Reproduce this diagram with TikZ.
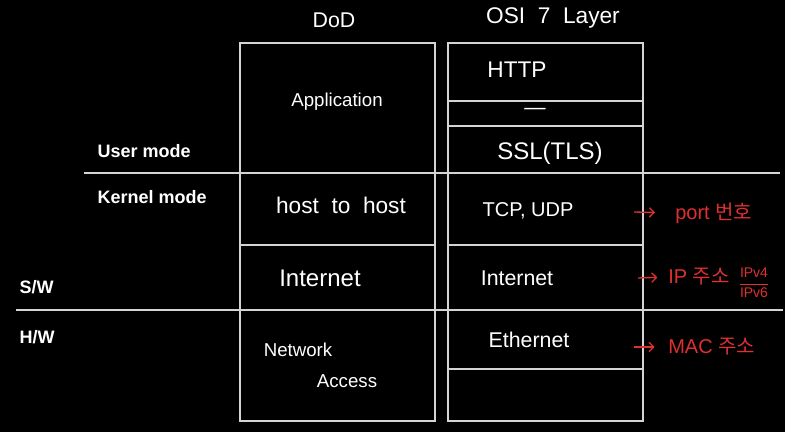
\documentclass[tikz,border=0pt]{standalone}
\usepackage{amsmath}
\usepackage{fontspec}
\setmainfont{Liberation Sans}
\newfontfamily\krfont{Noto Sans CJK KR}
\usetikzlibrary{arrows.meta}

\definecolor{boxline}{RGB}{212,212,212}
\definecolor{penred}{RGB}{222,48,48}

\tikzset{
  cell/.style={draw=boxline, line width=1.5pt, minimum width=146.25pt, inner sep=0pt},
  hand/.style={text=white, font=\fontsize{16}{18}\selectfont},
  mode/.style={text=white, font=\bfseries\fontsize{13.5}{16}\selectfont, anchor=base west},
  note/.style={text=penred, font=\fontsize{15}{17}\selectfont, anchor=west, inner sep=0pt},
  divider/.style={draw=boxline, line width=1.2pt},
  pointer/.style={draw=penred, line width=1pt, -{Straight Barb[length=3.5pt,width=7pt]}}
}

\begin{document}
\begin{tikzpicture}[x=0.75pt, y=-0.75pt]
    \fill[black] (0,0) rectangle (785,432);
    \useasboundingbox (0,0) rectangle (785,432);

    % DoD column
    \node[cell, minimum height=97.5pt] (dodapp) at (337.5,108) {};
    \node[cell, minimum height=54pt] (dodhost) at (337.5,209) {};
    \node[cell, minimum height=48.75pt] (dodnet) at (337.5,277.5) {};
    \node[cell, minimum height=83.25pt] (dodlink) at (337.5,365.5) {};

    % OSI column
    \node[cell, minimum height=43.5pt] (osihttp) at (545.5,72) {};
    \node[cell, minimum height=18.75pt] (osidash) at (545.5,113.5) {};
    \node[cell, minimum height=35.25pt] (osissl) at (545.5,149.5) {};
    \node[cell, minimum height=54pt] (ositcp) at (545.5,209) {};
    \node[cell, minimum height=48.75pt] (osinet) at (545.5,277.5) {};
    \node[cell, minimum height=44.25pt] (osieth) at (545.5,339.5) {};
    \node[cell, minimum height=39pt] (osiphy) at (545.5,395) {};

    % mode lines
    \draw[divider] (84,173) -- (780,173);
    \draw[divider] (16,310) -- (783,310);

    \node[hand] (dodtitle) at (334,20) {DoD};
    \node[hand, font=\fontsize{17}{19}\selectfont] (osititle) at (553,18) {OSI\ \ 7\ \ Layer};

    \node[hand, font=\fontsize{14}{16}\selectfont] (apptext) at (337,102) {Application};
    \node[hand, font=\fontsize{17}{19}\selectfont] (hosttext) at (341,205) {host\ \ to\ \ host};
    \node[hand, font=\fontsize{18}{20}\selectfont] (dodnettext) at (320,278) {Internet};
    \node[hand, font=\fontsize{14}{16}\selectfont] (linktext) at (298,350) {Network};
    \node[hand, font=\fontsize{14}{16}\selectfont] (accesstext) at (347,381) {Access};

    \node[hand, font=\fontsize{17}{19}\selectfont] (httptext) at (517,70) {HTTP};
    \node[hand] (dashtext) at (535,111) {---};
    \node[hand, font=\fontsize{18}{20}\selectfont] (ssltext) at (550,153) {SSL(TLS)};
    \node[hand, font=\fontsize{15}{17}\selectfont] (tcptext) at (528,211) {TCP, UDP};
    \node[hand, font=\fontsize{16}{18}\selectfont] (osinettext) at (517,278) {Internet};
    \node[hand, font=\fontsize{16}{18}\selectfont] (ethtext) at (529,340) {Ethernet};

    \node[mode] (usermode) at (93,157) {User mode};
    \node[mode] (kernelmode) at (93,203) {Kernel mode};
    \node[mode] (swlabel) at (15,293) {S/W};
    \node[mode] (hwlabel) at (15,343) {H/W};

    % red notes
    \node[note] (portnote) at (675,213) {port {\krfont 번호}};
    \node[note] (ipnote) at (668,277) {IP {\krfont 주소}};
    \node[text=penred, font=\fontsize{10.5}{12}\selectfont] (ipver) at (754,283) {$\dfrac{\text{IPv4}}{\text{IPv6}}$};
    \node[note] (macnote) at (668,347) {MAC {\krfont 주소}};

    \coordinate (tcpout) at (634,212);
    \coordinate (netout) at (638,278);
    \coordinate (ethout) at (634,347);
    \draw[pointer, shorten >=15pt] (tcpout) -- (portnote.west);
    \draw[pointer, shorten >=8pt] (netout) -- (ipnote.west);
    \draw[pointer, shorten >=10pt] (ethout) -- (macnote.west);
\end{tikzpicture}
\end{document}
